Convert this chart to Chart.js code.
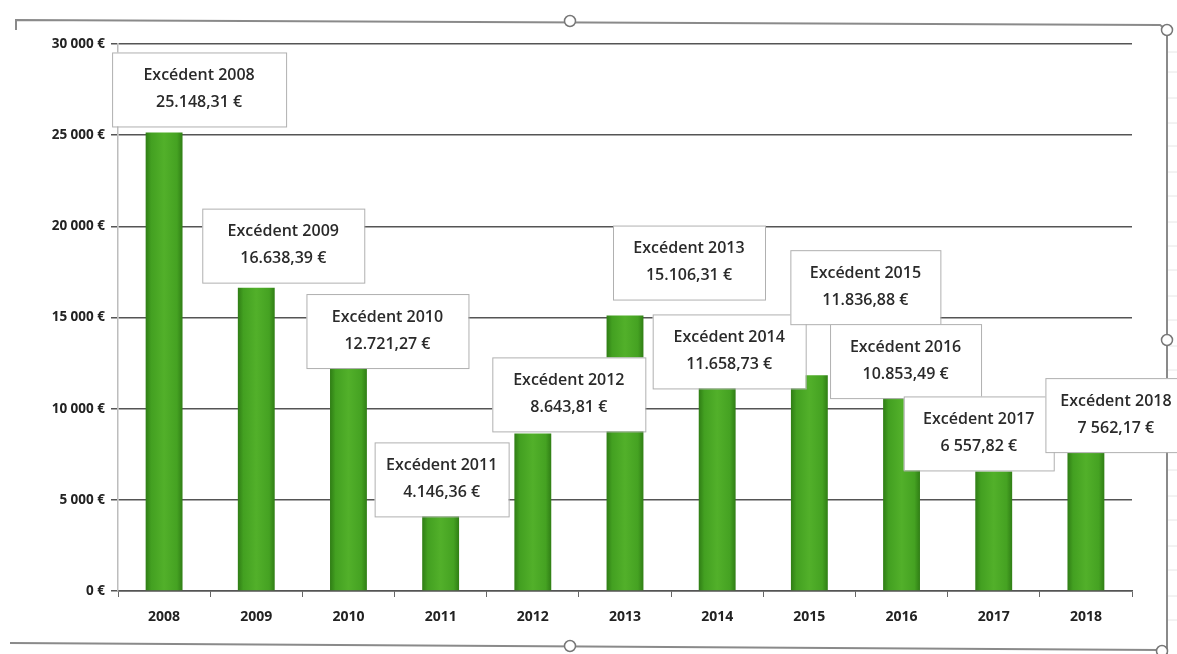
<!DOCTYPE html>
<html>
<head>
<meta charset="utf-8">
<script src="https://cdn.jsdelivr.net/npm/chart.js@4.4.1/dist/chart.umd.min.js"></script>
<style>
  html, body { margin: 0; padding: 0; background: #fff; }
  #wrap { width: 1177px; height: 654px; position: relative; }
</style>
</head>
<body>
<div id="wrap"><canvas id="excedents" width="1177" height="654"></canvas></div>
<script>
// Excédents annuels 2008 - 2018

const annees = ['2008', '2009', '2010', '2011', '2012', '2013', '2014', '2015', '2016', '2017', '2018'];
const excedents = [25148.31, 16638.39, 12721.27, 4146.36, 8643.81, 15106.31, 11658.73, 11836.88, 10853.49, 6557.82, 7562.17];
// texte de la 2e ligne des etiquettes, tel qu'il est saisi dans Excel
const montants = ['25.148,31 €', '16.638,39 €', '12.721,27 €', '4.146,36 €', '8.643,81 €', '15.106,31 €',
                  '11.658,73 €', '11.836,88 €', '10.853,49 €', '6 557,82 €', '7 562,17 €'];
const yTicks = [0, 5000, 10000, 15000, 20000, 25000, 30000];

// decalage des etiquettes (centre de la boite) par rapport au haut de la barre
const labelOffsets = [[35, -43], [27, -42], [39, -28], [1, -36], [36, -39], [64, -53],
                      [12, -27], [56, -88], [4, -32], [-15, -38], [30, -38]];
const labelWidths = [174, 162, 162, 134, 153, 152, 153, 150, 151, 150, 141];

const BAR_PCT = 0.4;

function fmtEuro(v) {
  return v.toLocaleString('fr-FR').replace(/\u202f|\u00a0/g, ' ') + ' €';
}

// degrade vert des barres (bord sombre, centre clair)
function barGradient(ctx) {
  const chart = ctx.chart;
  const x = chart.scales.x;
  if (!x || !chart.chartArea) return '#3f9e1f';
  const cx = x.getPixelForValue(ctx.dataIndex);
  const half = (x.width / annees.length) * BAR_PCT / 2;
  const g = chart.ctx.createLinearGradient(cx - half, 0, cx + half, 0);
  g.addColorStop(0, '#2f7d15');
  g.addColorStop(0.15, '#43a021');
  g.addColorStop(0.5, '#52b02a');
  g.addColorStop(0.85, '#45a222');
  g.addColorStop(1, '#307e15');
  return g;
}

// cadre du graphique avec les poignees de selection
const cadre = {
  id: 'cadre',
  beforeDraw(chart) {
    const c = chart.ctx;
    c.save();
    c.fillStyle = '#fff';
    c.fillRect(0, 0, chart.width, chart.height);
    c.strokeStyle = '#8a8a8a';
    c.lineWidth = 2;
    c.beginPath();
    c.moveTo(16, 30); c.lineTo(16, 20); c.lineTo(1160, 25); c.lineTo(1167, 30); c.lineTo(1167, 654);
    c.moveTo(10, 643); c.lineTo(1160, 650);
    c.stroke();
    // lignes de la feuille a droite
    c.strokeStyle = '#e6e6e6';
    c.lineWidth = 1;
    [52, 72, 98, 123, 146, 172, 196, 222, 246, 270, 296, 320, 346, 370, 396, 420, 446, 470, 496, 520, 546, 570, 596, 620].forEach(y => {
      c.beginPath(); c.moveTo(1168, y); c.lineTo(1177, y); c.stroke();
    });
    [[570, 21], [1167, 30], [1167, 340], [570, 646], [1162, 651]].forEach(p => {
      c.beginPath();
      c.arc(p[0], p[1], 5.5, 0, Math.PI * 2);
      c.fillStyle = '#fff';
      c.fill();
      c.strokeStyle = '#777';
      c.lineWidth = 1.5;
      c.stroke();
    });
    c.restore();
  }
};

// etiquettes de donnees encadrees
const etiquettes = {
  id: 'etiquettes',
  afterDatasetsDraw(chart) {
    const c = chart.ctx;
    const meta = chart.getDatasetMeta(0);
    c.save();
    meta.data.forEach((bar, i) => {
      const cx = bar.x + labelOffsets[i][0];
      const cy = bar.y + labelOffsets[i][1];
      const w = labelWidths[i];
      const h = 74;
      c.fillStyle = '#fff';
      c.fillRect(cx - w / 2, cy - h / 2, w, h);
      c.strokeStyle = '#b0b0b0';
      c.lineWidth = 1;
      c.strokeRect(cx - w / 2 + 0.5, cy - h / 2 + 0.5, w, h);
      c.fillStyle = '#2a2a2a';
      c.font = '600 16px "Open Sans"';
      c.textAlign = 'center';
      c.textBaseline = 'middle';
      c.fillText('Excédent ' + annees[i], cx, cy - 14);
      c.fillText(montants[i], cx, cy + 13);
    });
    c.restore();
  }
};

new Chart(document.getElementById('excedents'), {
  type: 'bar',
  data: {
    labels: annees,
    datasets: [{
      label: 'Excédent',
      data: excedents,
      backgroundColor: barGradient,
      borderWidth: 0,
      categoryPercentage: 1,
      barPercentage: BAR_PCT
    }]
  },
  options: {
    responsive: false,
    animation: false,
    layout: { padding: { left: 20, right: 45, top: 44, bottom: 8 } },
    plugins: {
      legend: { display: false },
      tooltip: { enabled: false }
    },
    scales: {
      x: {
        grid: {
          offset: true,
          drawOnChartArea: false,
          drawTicks: true,
          tickLength: 6,
          color: '#666'
        },
        border: { color: '#555', width: 1.5 },
        ticks: {
          color: '#222',
          font: { family: 'Open Sans', size: 14, weight: 'bold' },
          padding: 12
        },
        afterFit(s) { s.height = 55; }
      },
      y: {
        min: 0,
        max: 30000,
        afterBuildTicks(s) { s.ticks = yTicks.map(v => ({ value: v })); },
        grid: {
          color: '#555',
          lineWidth: 1.5,
          tickLength: 7
        },
        border: { color: '#bdbdbd', width: 1.5 },
        ticks: {
          color: '#222',
          font: { family: 'Open Sans', size: 13.5, weight: 'bold' },
          padding: 6,
          callback: v => fmtEuro(v)
        },
        afterFit(s) { s.width = 98; }
      }
    }
  },
  plugins: [cadre, etiquettes]
});
</script>
</body>
</html>
